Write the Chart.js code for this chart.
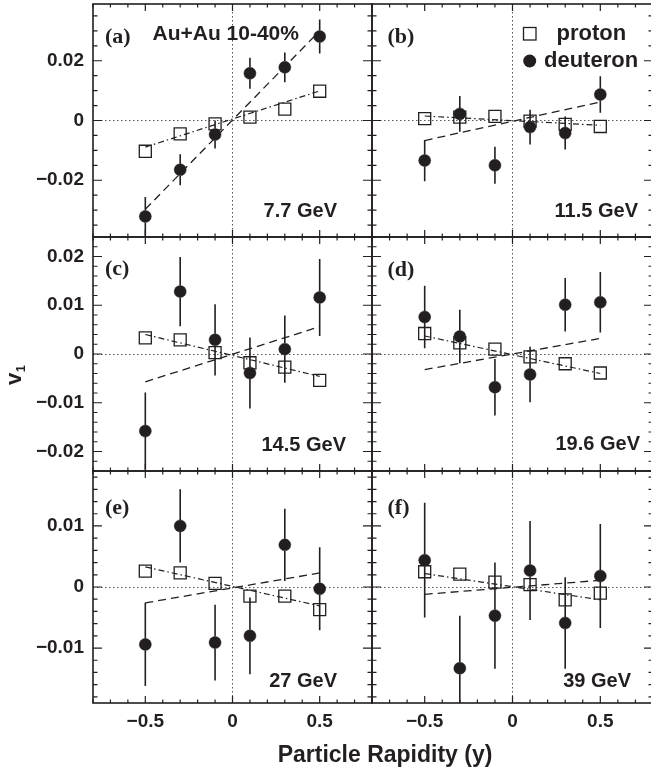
<!DOCTYPE html>
<html>
<head>
<meta charset="utf-8">
<title>v1 of protons and deuterons</title>
<script src="https://cdn.jsdelivr.net/npm/chart.js@4.4.0/dist/chart.umd.min.js"></script>
<style>
  html, body { margin: 0; padding: 0; width: 651px; height: 772px; overflow: hidden; background: #fff; }
  canvas { position: absolute; left: 0; top: 0; }
</style>
</head>
<body>
<canvas id="pa" width="660" height="772"></canvas>
<canvas id="pb" width="660" height="772"></canvas>
<canvas id="pc" width="660" height="772"></canvas>
<canvas id="pd" width="660" height="772"></canvas>
<canvas id="pe" width="660" height="772"></canvas>
<canvas id="pf" width="660" height="772"></canvas>
<script>
// Data
const rapidity = [-0.5, -0.3, -0.1, 0.1, 0.3, 0.5]
const fitRange = [-0.5, 0.5]
const energies = ["7.7 GeV", "11.5 GeV", "14.5 GeV", "19.6 GeV", "27 GeV", "39 GeV"]
const panelTags = ["(a)", "(b)", "(c)", "(d)", "(e)", "(f)"]

// (a) 7.7 GeV
const protonA = [-0.0103, -0.0045, -0.0011, 0.0011, 0.0038, 0.0098]
const protonErrA = [0.0007, 0.0006, 0.0006, 0.0006, 0.0006, 0.0007]
const deuteronA = [-0.0321, -0.0165, -0.0047, 0.0158, 0.0178, 0.0281]
const deuteronErrA = [0.0065, 0.0052, 0.0047, 0.0052, 0.005, 0.0057]
const protonFitA = [-0.0089, 0.0099]
const deuteronFitA = [-0.0297, 0.0300]

// (b) 11.5 GeV
const protonB = [0.0006, 0.0011, 0.0014, -0.0002, -0.0013, -0.0020]
const protonErrB = [0.0007, 0.0006, 0.0006, 0.0006, 0.0006, 0.0007]
const deuteronB = [-0.0134, 0.0022, -0.0150, -0.0022, -0.0042, 0.0087]
const deuteronErrB = [0.0069, 0.0060, 0.0062, 0.0058, 0.0055, 0.0061]
const protonFitB = [0.0015, -0.0016]
const deuteronFitB = [-0.0067, 0.0062]

// (c) 14.5 GeV
const protonC = [0.0033, 0.0029, 0.0003, -0.0018, -0.0027, -0.0054]
const protonErrC = [0.0008, 0.0007, 0.0007, 0.0007, 0.0007, 0.0008]
const deuteronC = [-0.0158, 0.0128, 0.0029, -0.0039, 0.0010, 0.0116]
const deuteronErrC = [0.0079, 0.0071, 0.0073, 0.0073, 0.0069, 0.0079]
const protonFitC = [0.0040, -0.0046]
const deuteronFitC = [-0.0057, 0.0056]

// (d) 19.6 GeV
const protonD = [0.0042, 0.0023, 0.0010, -0.0006, -0.0020, -0.0039]
const protonErrD = [0.0008, 0.0007, 0.0007, 0.0007, 0.0007, 0.0008]
const deuteronD = [0.0076, 0.0036, -0.0068, -0.0042, 0.0101, 0.0106]
const deuteronErrD = [0.0064, 0.0055, 0.0058, 0.0057, 0.0055, 0.0062]
const protonFitD = [0.0037, -0.0040]
const deuteronFitD = [-0.0032, 0.0032]

// (e) 27 GeV
const protonE = [0.0026, 0.0023, 0.0006, -0.0015, -0.0015, -0.0037]
const protonErrE = [0.0008, 0.0007, 0.0007, 0.0007, 0.0007, 0.0008]
const deuteronE = [-0.0094, 0.0100, -0.0091, -0.0080, 0.0069, -0.0003]
const deuteronErrE = [0.0068, 0.0060, 0.0062, 0.0063, 0.0059, 0.0068]
const protonFitE = [0.0033, -0.0031]
const deuteronFitE = [-0.0026, 0.0023]

// (f) 39 GeV
const protonF = [0.0025, 0.0021, 0.0008, 0.0004, -0.0021, -0.0010]
const protonErrF = [0.0008, 0.0007, 0.0007, 0.0007, 0.0007, 0.0008]
const deuteronF = [0.0044, -0.0133, -0.0047, 0.0027, -0.0059, 0.0018]
const deuteronErrF = [0.0094, 0.0086, 0.0087, 0.0081, 0.0075, 0.0085]
const protonFitF = [0.0022, -0.0021]
const deuteronFitF = [-0.0012, 0.0011]

// tick labels
const xTicks = [-0.5, 0, 0.5]
const yTicksTop = [-0.02, 0, 0.02]
const yTicksMid = [-0.02, -0.01, 0, 0.01, 0.02]
const yTicksBot = [-0.01, 0, 0.01]

const INK = "#231f20"
const SANS = "'Liberation Sans', Arial, Helvetica, sans-serif"
const SERIF = "bold 22px 'Liberation Serif', 'Times New Roman', serif"
const CW = 660
const CH = 772
const MARKER_HALF = 6

const rows = [
  { t: 4, b: 237, min: -0.039, max: 0.039, ticks: yTicksTop, minor: 0.005 },
  { t: 237, b: 471, min: -0.024, max: 0.024, ticks: yTicksMid, minor: 0.002 },
  { t: 471, b: 703, min: -0.019, max: 0.019, ticks: yTicksBot, minor: 0.002 },
]
const cols = [
  { l: 93, r: 372 },
  { l: 372, r: 653 },
]

const panels = [
  { id: "pa", row: 0, col: 0, p: protonA, pe: protonErrA, d: deuteronA, de: deuteronErrA, pf: protonFitA, df: deuteronFitA,
    texts: [
      { text: panelTags[0], x: 105, y: 42.5, font: SERIF },
      { text: "Au+Au 10-40%", x: 152.5, y: 39.5, font: "bold 21px " + SANS },
      { text: energies[0], x: 337, y: 217, align: "right" },
    ] },
  { id: "pb", row: 0, col: 1, p: protonB, pe: protonErrB, d: deuteronB, de: deuteronErrB, pf: protonFitB, df: deuteronFitB, legend: true,
    texts: [
      { text: panelTags[1], x: 387.5, y: 42.5, font: SERIF },
      { text: energies[1], x: 638, y: 217, align: "right" },
    ] },
  { id: "pc", row: 1, col: 0, p: protonC, pe: protonErrC, d: deuteronC, de: deuteronErrC, pf: protonFitC, df: deuteronFitC, yTitle: true,
    texts: [
      { text: panelTags[2], x: 105, y: 274.6, font: SERIF },
      { text: energies[2], x: 346, y: 451, align: "right" },
    ] },
  { id: "pd", row: 1, col: 1, p: protonD, pe: protonErrD, d: deuteronD, de: deuteronErrD, pf: protonFitD, df: deuteronFitD,
    texts: [
      { text: panelTags[3], x: 387.5, y: 276.4, font: SERIF },
      { text: energies[3], x: 640, y: 450, align: "right" },
    ] },
  { id: "pe", row: 2, col: 0, p: protonE, pe: protonErrE, d: deuteronE, de: deuteronErrE, pf: protonFitE, df: deuteronFitE, xTitle: true,
    texts: [
      { text: panelTags[4], x: 105, y: 513.6, font: SERIF },
      { text: energies[4], x: 337, y: 687, align: "right" },
    ] },
  { id: "pf", row: 2, col: 1, p: protonF, pe: protonErrF, d: deuteronF, de: deuteronErrF, pf: protonFitF, df: deuteronFitF,
    texts: [
      { text: panelTags[5], x: 387.5, y: 513.6, font: SERIF },
      { text: energies[5], x: 631, y: 687, align: "right" },
    ] },
]

function fmt(v, digits) {
  if (Math.abs(v) < 1e-9) return "0"
  return (v < 0 ? "\u2212" : "") + Math.abs(v).toFixed(digits)
}

function drawText(ctx, t) {
  ctx.font = t.font || "bold 20px " + SANS
  ctx.textAlign = t.align || "left"
  ctx.textBaseline = "alphabetic"
  ctx.fillStyle = INK
  ctx.fillText(t.text, t.x, t.y)
}

// the panels sit edge to edge, so scales must not ask for any extra room
function noScalePadding(s) {
  s.paddingTop = 0
  s.paddingBottom = 0
  s.paddingLeft = 0
  s.paddingRight = 0
}

function makeDecor(panel, row) {
  return {
    id: "decor_" + panel.id,
    beforeDatasetsDraw(chart) {
      // error bars, left out where the marker covers them (ROOT style)
      const ctx = chart.ctx
      const xs = chart.scales.x
      const ys = chart.scales.y
      const area = chart.chartArea
      ctx.save()
      ctx.beginPath()
      ctx.rect(area.left, area.top, area.right - area.left, area.bottom - area.top)
      ctx.clip()
      ctx.strokeStyle = INK
      ctx.lineWidth = 1.6
      ctx.beginPath()
      ;[[panel.p, panel.pe], [panel.d, panel.de]].forEach(([vals, errs]) => {
        rapidity.forEach((x, i) => {
          const px = xs.getPixelForValue(x)
          const pc = ys.getPixelForValue(vals[i])
          const pHi = ys.getPixelForValue(vals[i] + errs[i])
          const pLo = ys.getPixelForValue(vals[i] - errs[i])
          if (pc - pHi > MARKER_HALF) {
            ctx.moveTo(px, pc - MARKER_HALF)
            ctx.lineTo(px, pHi)
          }
          if (pLo - pc > MARKER_HALF) {
            ctx.moveTo(px, pc + MARKER_HALF)
            ctx.lineTo(px, pLo)
          }
        })
      })
      ctx.stroke()
      ctx.restore()
    },
    afterDraw(chart) {
      const ctx = chart.ctx
      const xs = chart.scales.x
      const ys = chart.scales.y
      const { left, right, top, bottom } = chart.chartArea
      ctx.save()
      // inward ticks on all four sides
      ctx.strokeStyle = INK
      ctx.lineWidth = 1.2
      ctx.beginPath()
      for (let k = -8; k <= 8; k++) {
        const px = xs.getPixelForValue(k / 10)
        const len = k % 5 === 0 ? 7 : 3.5
        ctx.moveTo(px, bottom); ctx.lineTo(px, bottom - len)
        ctx.moveTo(px, top); ctx.lineTo(px, top + len)
      }
      const n = Math.floor(row.max / row.minor + 1e-6)
      for (let k = -n; k <= n; k++) {
        const v = k * row.minor
        const py = ys.getPixelForValue(v)
        const major = row.ticks.some((t) => Math.abs(t - v) < 1e-9)
        const len = major ? 9 : 4.5
        ctx.moveTo(left, py); ctx.lineTo(left + len, py)
        ctx.moveTo(right, py); ctx.lineTo(right - len, py)
      }
      ctx.stroke()
      // frame
      ctx.lineWidth = 1.6
      ctx.strokeRect(left, top, right - left, bottom - top)

      panel.texts.forEach((t) => drawText(ctx, t))

      if (panel.legend) {
        ctx.lineWidth = 1.3
        ctx.strokeRect(523.5, 27.5, 12.5, 12.5)
        ctx.beginPath()
        ctx.arc(529.7, 61, 6.5, 0, Math.PI * 2)
        ctx.fillStyle = INK
        ctx.fill()
        drawText(ctx, { text: "proton", x: 556.5, y: 39.5, font: "bold 22px " + SANS })
        drawText(ctx, { text: "deuteron", x: 544, y: 67, font: "bold 22px " + SANS })
      }
      if (panel.yTitle) {
        ctx.save()
        ctx.translate(21, 385)
        ctx.rotate(-Math.PI / 2)
        ctx.fillStyle = INK
        ctx.textAlign = "left"
        ctx.font = "bold 22px " + SANS
        ctx.fillText("v", 0, 0)
        const w = ctx.measureText("v").width
        ctx.font = "bold 13px " + SANS
        ctx.fillText("1", w + 0.5, 4)
        ctx.restore()
      }
      if (panel.xTitle) {
        drawText(ctx, { text: "Particle Rapidity (y)", x: 385, y: 762, font: "bold 23px " + SANS, align: "center" })
      }
      ctx.restore()
    },
  }
}

function buildChart(panel) {
  const row = rows[panel.row]
  const col = cols[panel.col]
  const showY = panel.col === 0
  const showX = panel.row === 2
  const yW = showY ? 60 : 0
  const xH = showX ? 40 : 0
  const tickFont = { family: SANS, size: 19, weight: "bold" }
  const zeroGrid = (ctx) => (ctx.tick && Math.abs(ctx.tick.value) < 1e-9 ? "#555" : "rgba(0,0,0,0)")

  const toPoints = (xsArr, ysArr) => xsArr.map((x, i) => ({ x: x, y: ysArr[i] }))

  return new Chart(document.getElementById(panel.id), {
    type: "scatter",
    data: {
      datasets: [
        {
          label: "deuteron",
          data: toPoints(rapidity, panel.d),
          pointStyle: "circle",
          pointRadius: 6,
          pointBorderWidth: 0.5,
          pointBackgroundColor: INK,
          pointBorderColor: INK,
          order: 0,
        },
        {
          label: "proton",
          data: toPoints(rapidity, panel.p),
          pointStyle: "rect",
          pointRadius: 8.5,
          pointBorderWidth: 1.3,
          pointBackgroundColor: "rgba(0,0,0,0)",
          pointBorderColor: INK,
          order: 1,
        },
        {
          label: "deuteron fit",
          data: toPoints(fitRange, panel.df),
          showLine: true,
          borderColor: INK,
          borderWidth: 1.3,
          borderDash: [8, 5],
          pointRadius: 0,
          order: 2,
        },
        {
          label: "proton fit",
          data: toPoints(fitRange, panel.pf),
          showLine: true,
          borderColor: INK,
          borderWidth: 1.2,
          borderDash: [6, 3, 1.5, 3],
          pointRadius: 0,
          order: 3,
        },
      ],
    },
    options: {
      responsive: false,
      animation: false,
      events: [],
      layout: {
        autoPadding: false,
        padding: { left: col.l - yW, right: CW - col.r, top: row.t, bottom: CH - row.b - xH },
      },
      plugins: { legend: { display: false }, tooltip: { enabled: false }, title: { display: false } },
      scales: {
        x: {
          type: "linear",
          min: -0.8,
          max: 0.8,
          afterBuildTicks: (s) => { s.ticks = xTicks.map((v) => ({ value: v })) },
          afterFit: (s) => { s.height = xH; noScalePadding(s) },
          ticks: { display: showX, font: tickFont, color: INK, padding: 7, callback: (v) => fmt(v, 1), maxRotation: 0, autoSkip: false },
          grid: { drawTicks: false, color: zeroGrid, lineWidth: 1 },
          border: { display: false, dash: [1.5, 2.5] },
        },
        y: {
          type: "linear",
          min: row.min,
          max: row.max,
          afterBuildTicks: (s) => { s.ticks = row.ticks.map((v) => ({ value: v })) },
          afterFit: (s) => { s.width = yW; noScalePadding(s) },
          ticks: { display: showY, font: tickFont, color: INK, padding: 9, callback: (v) => fmt(v, 2), autoSkip: false },
          grid: { drawTicks: false, color: zeroGrid, lineWidth: 1 },
          border: { display: false, dash: [1.5, 2.5] },
        },
      },
    },
    plugins: [makeDecor(panel, row)],
  })
}

const charts = {}
document.addEventListener("DOMContentLoaded", () => {
  panels.forEach((panel) => {
    charts[panel.id] = buildChart(panel)
  })
})
</script>
</body>
</html>
